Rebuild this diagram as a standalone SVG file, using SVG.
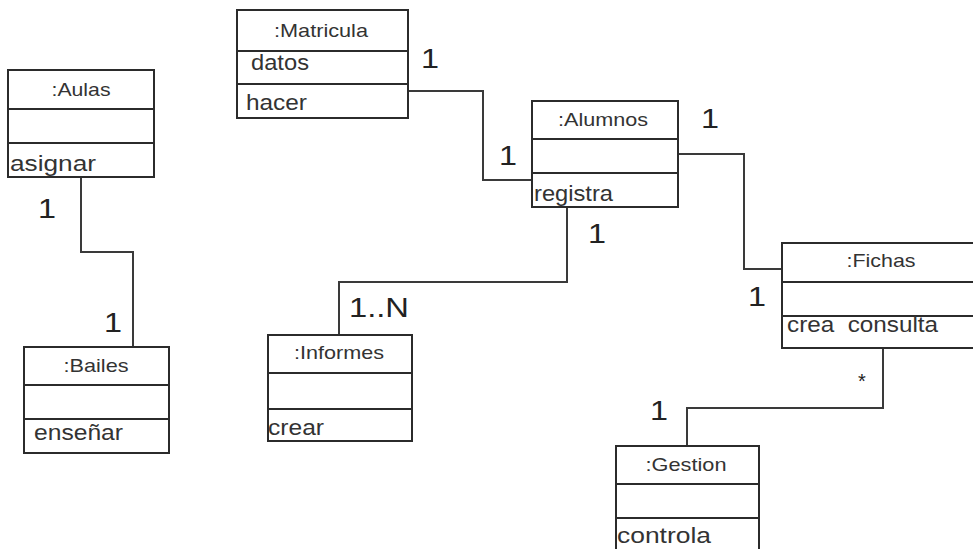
<svg xmlns="http://www.w3.org/2000/svg" width="973" height="549" viewBox="0 0 973 549">
  <style>
    .box { fill: #ffffff; stroke: #2b2b2b; stroke-width: 2; }
    .div { stroke: #2b2b2b; stroke-width: 2; }
    .title { font-family: "Liberation Sans", Arial, sans-serif; font-size: 19px; fill: #333; text-anchor: middle; }
    .op { font-family: "Liberation Sans", Arial, sans-serif; font-size: 22px; fill: #333; }
    .mult { font-family: "Liberation Sans", Arial, sans-serif; font-size: 27px; fill: #222; }
    .star { font-family: "Liberation Sans", Arial, sans-serif; font-size: 20px; fill: #222; }
    .link { fill: none; stroke: #3a3a3a; stroke-width: 2; }
  </style>
  <rect width="973" height="549" fill="#ffffff"/>

  <!-- associations -->
  <g id="connectors">
    <polyline class="link" points="81,177 81,252 133,252 133,347"/>
    <polyline class="link" points="408,91 483,91 483,180 532,180"/>
    <polyline class="link" points="567,207 567,282 339,282 339,335"/>
    <polyline class="link" points="678,154 744,154 744,269 782,269"/>
    <polyline class="link" points="883,348 883,408 687,408 687,446"/>
  </g>

  <g id="aulas">
    <rect class="box" x="8" y="70" width="146" height="107"/>
    <line class="div" x1="8" y1="109" x2="154" y2="109"/>
    <line class="div" x1="8" y1="143" x2="154" y2="143"/>
    <text class="title" x="81" y="96" textLength="59" lengthAdjust="spacingAndGlyphs">:Aulas</text>
    <text class="op" x="10" y="171" textLength="86" lengthAdjust="spacingAndGlyphs">asignar</text>
  </g>

  <g id="matricula">
    <rect class="box" x="237" y="10" width="171" height="108"/>
    <line class="div" x1="237" y1="51" x2="408" y2="51"/>
    <line class="div" x1="237" y1="84" x2="408" y2="84"/>
    <text class="title" x="321" y="37" textLength="94" lengthAdjust="spacingAndGlyphs">:Matricula</text>
    <text class="op" x="251" y="70" textLength="58" lengthAdjust="spacingAndGlyphs">datos</text>
    <text class="op" x="246" y="110" textLength="61" lengthAdjust="spacingAndGlyphs">hacer</text>
  </g>

  <g id="alumnos">
    <rect class="box" x="532" y="101" width="146" height="106"/>
    <line class="div" x1="532" y1="139" x2="678" y2="139"/>
    <line class="div" x1="532" y1="173" x2="678" y2="173"/>
    <text class="title" x="603" y="126" textLength="90" lengthAdjust="spacingAndGlyphs">:Alumnos</text>
    <text class="op" x="534" y="201" textLength="79" lengthAdjust="spacingAndGlyphs">registra</text>
  </g>

  <g id="bailes">
    <rect class="box" x="24" y="347" width="145" height="106"/>
    <line class="div" x1="24" y1="385" x2="169" y2="385"/>
    <line class="div" x1="24" y1="419" x2="169" y2="419"/>
    <text class="title" x="96" y="372" textLength="65" lengthAdjust="spacingAndGlyphs">:Bailes</text>
    <text class="op" x="34" y="440" textLength="89" lengthAdjust="spacingAndGlyphs">enseñar</text>
  </g>

  <g id="informes">
    <rect class="box" x="268" y="335" width="144" height="106"/>
    <line class="div" x1="268" y1="373" x2="412" y2="373"/>
    <line class="div" x1="268" y1="409" x2="412" y2="409"/>
    <text class="title" x="339" y="359" textLength="90" lengthAdjust="spacingAndGlyphs">:Informes</text>
    <text class="op" x="268" y="435" textLength="56" lengthAdjust="spacingAndGlyphs">crear</text>
  </g>

  <g id="fichas">
    <rect class="box" x="782" y="243" width="210" height="105"/>
    <line class="div" x1="782" y1="282" x2="992" y2="282"/>
    <line class="div" x1="782" y1="316" x2="992" y2="316"/>
    <text class="title" x="881" y="267" textLength="69" lengthAdjust="spacingAndGlyphs">:Fichas</text>
    <text class="op" x="787" y="332" xml:space="preserve" textLength="151" lengthAdjust="spacingAndGlyphs">crea  consulta</text>
  </g>

  <g id="gestion">
    <rect class="box" x="616" y="446" width="143" height="120"/>
    <line class="div" x1="616" y1="484" x2="759" y2="484"/>
    <line class="div" x1="616" y1="518" x2="759" y2="518"/>
    <text class="title" x="686" y="471" textLength="81" lengthAdjust="spacingAndGlyphs">:Gestion</text>
    <text class="op" x="617" y="543" textLength="94" lengthAdjust="spacingAndGlyphs">controla</text>
  </g>

  <!-- multiplicities -->
  <g id="multiplicities">
    <text class="mult" x="38" y="218" textLength="18" lengthAdjust="spacingAndGlyphs">1</text>
    <text class="mult" x="104" y="332" textLength="18" lengthAdjust="spacingAndGlyphs">1</text>
    <text class="mult" x="421" y="68" textLength="18" lengthAdjust="spacingAndGlyphs">1</text>
    <text class="mult" x="499" y="165" textLength="18" lengthAdjust="spacingAndGlyphs">1</text>
    <text class="mult" x="701" y="128" textLength="18" lengthAdjust="spacingAndGlyphs">1</text>
    <text class="mult" x="588" y="243" textLength="18" lengthAdjust="spacingAndGlyphs">1</text>
    <text class="mult" x="349" y="317" textLength="60" lengthAdjust="spacingAndGlyphs">1..N</text>
    <text class="mult" x="748" y="306" textLength="18" lengthAdjust="spacingAndGlyphs">1</text>
    <text class="star" x="858" y="388">*</text>
    <text class="mult" x="650" y="420" textLength="18" lengthAdjust="spacingAndGlyphs">1</text>
  </g>
</svg>
